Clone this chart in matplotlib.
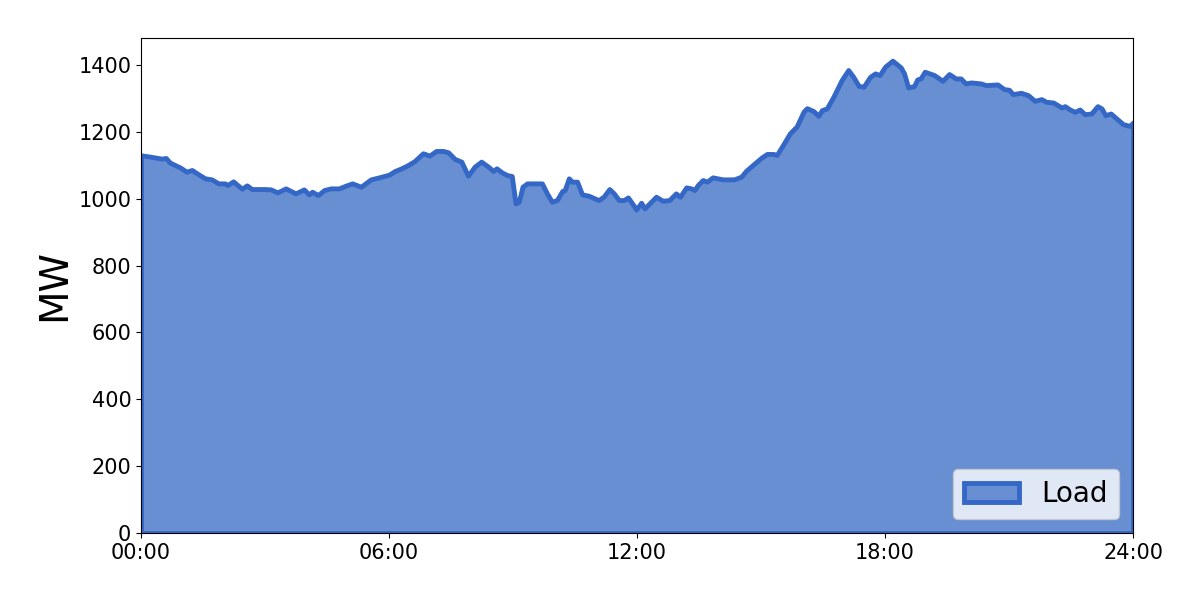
import matplotlib
matplotlib.use("Agg")
import matplotlib.pyplot as plt
import numpy as np

# hours of day and load readings (MW)
hours = [0.0, 0.22, 0.5, 0.6, 0.7, 0.94, 1.1, 1.23, 1.39, 1.55, 1.71, 1.87, 2.03, 2.09,
         2.23, 2.44, 2.56, 2.68, 3.0, 3.14, 3.3, 3.5, 3.74, 3.94, 4.06, 4.14, 4.28,
         4.43, 4.59, 4.79, 4.95, 5.11, 5.32, 5.56, 5.76, 6.0, 6.14, 6.3, 6.46, 6.62,
         6.82, 6.98, 7.14, 7.31, 7.43, 7.59, 7.75, 7.91, 8.07, 8.23, 8.4, 8.52, 8.6,
         8.73, 8.85, 8.97, 9.06, 9.14, 9.23, 9.34, 9.7, 9.82, 9.94, 10.06, 10.19,
         10.25, 10.35, 10.43, 10.55, 10.67, 10.83, 11.07, 11.19, 11.33, 11.44, 11.56,
         11.68, 11.78, 11.9, 11.98, 12.1, 12.18, 12.3, 12.46, 12.62, 12.78, 12.94,
         13.04, 13.19, 13.31, 13.39, 13.47, 13.59, 13.69, 13.83, 14.07, 14.35, 14.52,
         14.64, 14.8, 15.0, 15.14, 15.3, 15.38, 15.54, 15.7, 15.86, 16.03, 16.11,
         16.27, 16.39, 16.47, 16.59, 16.75, 16.95, 17.11, 17.23, 17.36, 17.48, 17.64,
         17.76, 17.87, 18.0, 18.18, 18.38, 18.46, 18.56, 18.7, 18.78, 18.86, 18.96,
         19.19, 19.39, 19.55, 19.71, 19.83, 19.95, 20.08, 20.32, 20.44, 20.72, 20.88,
         21.0, 21.09, 21.29, 21.46, 21.62, 21.78, 21.9, 22.07, 22.27, 22.35, 22.47,
         22.59, 22.71, 22.83, 22.99, 23.14, 23.24, 23.33, 23.46, 23.6, 23.76, 23.92,
         24.0]
load = [1130, 1126, 1120, 1122, 1108, 1094, 1081, 1086, 1073, 1061, 1058, 1046, 1046, 1041,
        1052, 1030, 1040, 1029, 1029, 1028, 1019, 1031, 1016, 1028, 1013, 1021, 1011,
        1026, 1031, 1031, 1039, 1046, 1036, 1058, 1064, 1072, 1083, 1091, 1101, 1113,
        1136, 1129, 1143, 1143, 1139, 1119, 1111, 1069, 1096, 1111, 1096, 1083, 1091,
        1079, 1071, 1068, 986, 991, 1036, 1046, 1046, 1016, 991, 996, 1023,
        1026, 1061, 1051, 1051, 1013, 1009, 996, 1006, 1029, 1016, 996,
        996, 1004, 983, 968, 988, 971, 986, 1006, 994, 996, 1016,
        1006, 1034, 1031, 1026, 1041, 1056, 1051, 1064, 1058, 1058, 1066,
        1084, 1101, 1122, 1134, 1134, 1131, 1163, 1196, 1216, 1261, 1271,
        1262, 1248, 1265, 1270, 1305, 1355, 1385, 1365, 1338, 1335, 1365,
        1375, 1370, 1395, 1413, 1393, 1375, 1333, 1337, 1357, 1360, 1380,
        1370, 1353, 1373, 1360, 1360, 1345, 1348, 1345, 1340, 1342, 1328,
        1326, 1313, 1317, 1310, 1293, 1298, 1290, 1288, 1273, 1277, 1267,
        1260, 1267, 1253, 1255, 1277, 1270, 1250, 1255, 1240, 1223, 1218,
        1228]

tick_hours = [0, 6, 12, 18, 24]
tick_labels = ["00:00", "06:00", "12:00", "18:00", "24:00"]

fig = plt.figure(figsize=(12, 6), dpi=100)
ax = fig.add_axes([0.1175, 0.1117, 0.8267, 0.825])

ax.fill_between(hours, load, 0, facecolor="#678fd2", edgecolor="#3467c6",
                linewidth=3.5, label="Load")

ax.set_xlim(0, 24)
ax.set_ylim(0, 1481)
ax.set_xticks(tick_hours)
ax.set_xticklabels(tick_labels)
ax.set_yticks(np.arange(0, 1401, 200))
ax.tick_params(labelsize=15)
ax.set_ylabel("MW", fontsize=28)

ax.legend(loc="lower right", fontsize=20)

fig.savefig("out.png")
